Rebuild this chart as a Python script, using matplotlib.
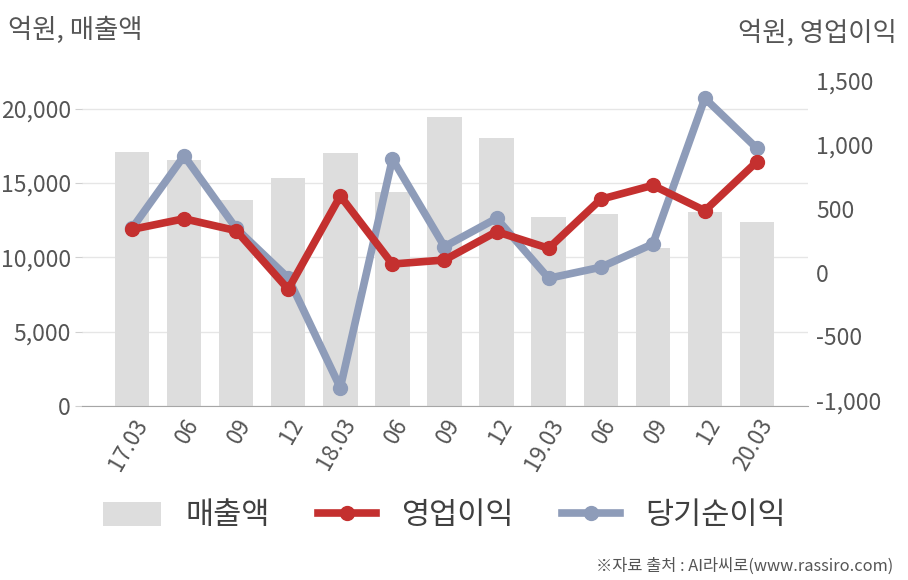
import matplotlib
matplotlib.use("Agg")
import matplotlib.pyplot as plt
from matplotlib.lines import Line2D
from matplotlib.patches import Patch

plt.rcParams['font.family'] = ['Noto Sans CJK KR', 'DejaVu Sans']

categories = ["17.03", "06", "09", "12", "18.03", "06", "09", "12",
              "19.03", "06", "09", "12", "20.03"]
revenue = [17050, 16510, 13830, 15300, 16980, 14360, 19460, 17990,
           12700, 12900, 10620, 13040, 12370]
operating_profit = [337, 420, 327, -131, 598, 66, 98, 319, 189, 572, 681, 483, 866]
net_income = [345, 912, 345, -43, -900, 887, 202, 423, -45, 41, 223, 1361, 970]

left_ticks = [0, 5000, 10000, 15000, 20000]
right_ticks = [-1000, -500, 0, 500, 1000, 1500]

BAR_C = "#DDDDDD"
RED = "#C4302F"
BLUE = "#8E9CB9"
TXT = "#555555"

fig = plt.figure(figsize=(9.08, 5.8), dpi=100)
ax = fig.add_axes([82/908, 1-406/580, 726/908, 326/580])
ax2 = ax.twinx()

x = list(range(len(categories)))
ax.bar(x, revenue, width=0.66, color=BAR_C, zorder=2)
ax.set_ylim(0, 21916)
ax.set_xlim(-0.96, 12.98)
ax.set_yticks(left_ticks)
ax.set_yticklabels([f"{v:,}" for v in left_ticks])
ax.set_axisbelow(True)
ax.yaxis.grid(True, color="#E6E6E6", linewidth=1)
ax.tick_params(axis='y', length=5, color="#D0D0D0", labelsize=16.5, labelcolor=TXT, pad=3)
ax.tick_params(axis='x', length=0, labelsize=16, labelcolor=TXT, pad=6)
ax.set_xticks(x)
ax.set_xticklabels(categories, rotation=60, ha='right', rotation_mode='anchor')
for s in ['top', 'right', 'left']:
    ax.spines[s].set_visible(False)
ax.spines['bottom'].set_color("#A6A6A6")

ax2.plot(x, net_income, color=BLUE, linewidth=5.5, marker='o', markersize=10,
         solid_joinstyle='round', zorder=3)
ax2.plot(x, operating_profit, color=RED, linewidth=5.5, marker='o', markersize=10,
         solid_joinstyle='round', zorder=4)
ax2.set_ylim(-1043, 1504)
ax2.set_yticks(right_ticks)
ax2.set_yticklabels([f"{v:,}" for v in right_ticks])
ax2.tick_params(axis='y', length=0, labelsize=16.5, labelcolor=TXT, pad=6)
for s in ['top', 'right', 'left', 'bottom']:
    ax2.spines[s].set_visible(False)

fig.text(8/908, 1-30/580, "억원, 매출액", fontsize=19, color=TXT, ha='left', va='center')
fig.text(897/908, 1-33/580, "억원, 영업이익", fontsize=19, color=TXT, ha='right', va='center')
fig.text(893/908, 1-566/580, "※자료 출처 : AI라씨로(www.rassiro.com)", fontsize=11.8,
         color=TXT, ha='right', va='center')

handles = [Patch(facecolor=BAR_C, edgecolor='none'),
           Line2D([0], [0], color=RED, linewidth=5.5, marker='o', markersize=10),
           Line2D([0], [0], color=BLUE, linewidth=5.5, marker='o', markersize=10)]
labels = ["매출액", "영업이익", "당기순이익"]
leg = fig.legend(handles, labels, loc='center', bbox_to_anchor=(0.489, 1-516/580),
                 ncol=3, frameon=False, fontsize=22, handlelength=1.9, handleheight=0.8,
                 columnspacing=1.6, handletextpad=0.8)
for t in leg.get_texts():
    t.set_color("#404040")

fig.savefig("out.png", dpi=100)
